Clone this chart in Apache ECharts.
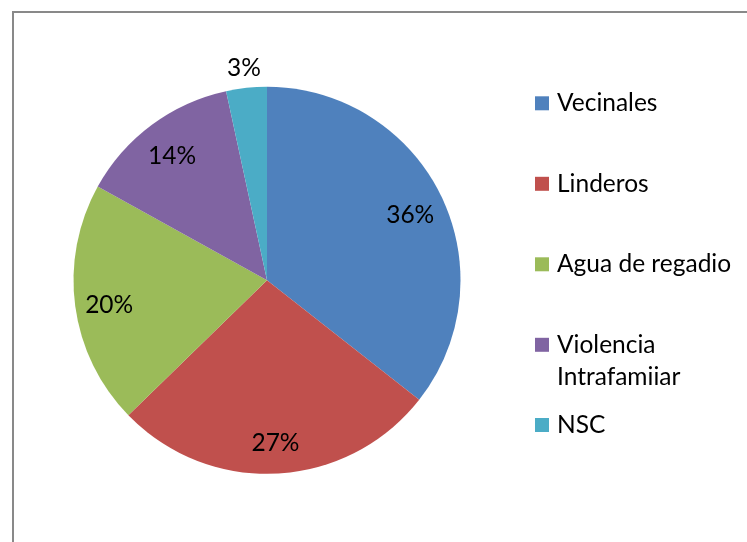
<!DOCTYPE html>
<html>
<head>
<meta charset="utf-8">
<script src="https://cdn.jsdelivr.net/npm/echarts@6/dist/echarts.min.js"></script>
<style>
  html, body { margin: 0; padding: 0; background: #fff; }
  #chart { width: 747px; height: 542px; }
</style>
</head>
<body>
<div id="chart"></div>
<script>
const categories = ['Vecinales', 'Linderos', 'Agua de regadio', 'Violencia Intrafamiiar', 'NSC'];
const legendLabels = ['Vecinales', 'Linderos', 'Agua de regadio', 'Violencia\nIntrafamiiar', 'NSC'];
const values = [21, 16, 12, 8, 2];
const colors = ['#4F81BD', '#C0504D', '#9BBB59', '#8064A2', '#4BACC6'];
const outsideLabel = ['NSC'];

const FONT = 'Lato';
const FS = 24.5;
const total = values.reduce((a, b) => a + b, 0);
const pct = v => Math.round(v / total * 100) + '%';

const center = [267, 280.3];
const R = 193.5;

const legendBase = {
  orient: 'vertical',
  left: 535,
  padding: 0,
  itemGap: 48.5,
  itemWidth: 14,
  itemHeight: 14,
  icon: 'rect',
  selectedMode: false,
  formatter: name => legendLabels[categories.indexOf(name)],
  textStyle: { fontFamily: FONT, fontSize: FS, color: '#000', lineHeight: 32, padding: [0, 0, 0, 3] }
};
const legendItem = i => ({
  name: categories[i],
  itemStyle: { color: colors[i] },
  textStyle: legendLabels[i].indexOf('\n') >= 0
    ? { height: 32, rich: { v: { fontFamily: FONT, fontSize: FS, color: '#000', lineHeight: 32 } } }
    : {}
});

const richLabel = { p: { fontFamily: FONT, fontSize: FS, color: '#000' } };

const chart = echarts.init(document.getElementById('chart'), null, { renderer: 'canvas' });
chart.setOption({
  animation: false,
  backgroundColor: '#fff',
  graphic: [{
    type: 'rect',
    shape: { x: 13, y: 12, width: 800, height: 600 },
    style: { fill: 'none', stroke: '#898989', lineWidth: 2 },
    silent: true,
    z: 0
  }],
  legend: [
    Object.assign({}, legendBase, { top: 87.3, data: [0, 1, 2, 3].map(legendItem) }),
    Object.assign({}, legendBase, { top: 409, data: [4].map(legendItem) })
  ],
  series: [
    {
      type: 'pie',
      center: center,
      radius: [0, R],
      startAngle: 90,
      clockwise: true,
      silent: true,
      label: { show: false },
      labelLine: { show: false },
      itemStyle: { borderWidth: 0 },
      data: categories.map((c, i) => ({ name: c, value: values[i], itemStyle: { color: colors[i] } }))
    },
    {
      type: 'pie',
      center: center,
      radius: [119, R],
      startAngle: 90,
      silent: true,
      itemStyle: { color: 'rgba(0,0,0,0)', borderWidth: 0 },
      label: {
        show: true, position: 'inside', fontFamily: FONT, fontSize: FS, color: '#000',
        padding: [8, 0, 0, 0],
        rich: richLabel,
        formatter: p => outsideLabel.indexOf(p.name) >= 0 ? '' : pct(p.value)
      },
      labelLine: { show: false },
      data: categories.map((c, i) => ({ name: c, value: values[i] }))
    },
    {
      type: 'pie',
      center: center,
      radius: [200, 227],
      startAngle: 90,
      silent: true,
      itemStyle: { color: 'rgba(0,0,0,0)', borderWidth: 0 },
      label: {
        show: true, position: 'inside', fontFamily: FONT, fontSize: FS, color: '#000',
        padding: [6, 0, 0, 0],
        rich: richLabel,
        formatter: p => outsideLabel.indexOf(p.name) >= 0 ? pct(p.value) : ''
      },
      labelLine: { show: false },
      data: categories.map((c, i) => ({ name: c, value: values[i] }))
    }
  ]
});
</script>
</body>
</html>
